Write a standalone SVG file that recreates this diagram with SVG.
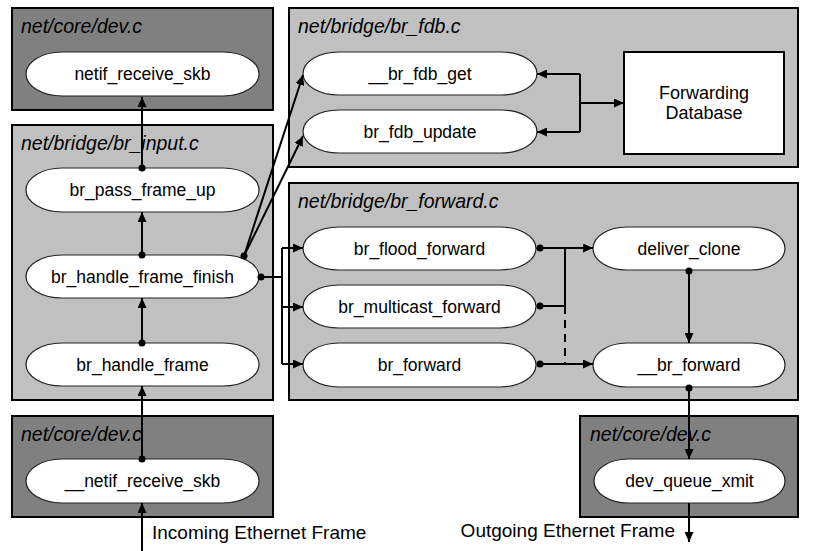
<svg xmlns="http://www.w3.org/2000/svg" width="817" height="551" viewBox="0 0 817 551">
<style>
.dark{fill:#808080;stroke:#000;stroke-width:2}
.light{fill:#c0c0c0;stroke:#000;stroke-width:2}
.pill{fill:#fff;stroke:#222;stroke-width:1.2}
.mod{font-family:"Liberation Sans",Arial,Helvetica,sans-serif;font-style:italic;font-size:19.5px;fill:#000}
.lbl{font-family:"Liberation Sans",Arial,Helvetica,sans-serif;font-size:17.5px;fill:#000;text-anchor:middle}
.fd{font-size:18px}
.ext{font-family:"Liberation Sans",Arial,Helvetica,sans-serif;font-size:19px;fill:#000}
.c{fill:none;stroke:#000;stroke-width:2}
.a{marker-end:url(#arr)}
.d{marker-start:url(#dot)}
.dash{stroke-dasharray:8,6}
</style>
<defs>
<marker id="arr" markerUnits="userSpaceOnUse" markerWidth="11" markerHeight="9" refX="10" refY="4.5" orient="auto" viewBox="0 0 11 9">
<path d="M0,0 L10,4.5 L0,9 z" fill="#000"/>
</marker>
<marker id="dot" markerUnits="userSpaceOnUse" markerWidth="8" markerHeight="8" refX="4" refY="4" viewBox="0 0 8 8">
<circle cx="4" cy="4" r="3.5" fill="#000"/>
</marker>
</defs>

<g id="mod-dev-top">
<rect class="dark" x="12" y="8" width="261" height="102"/>
<text class="mod" x="21" y="33">net/core/dev.c</text>
</g>
<g id="mod-br-input">
<rect class="light" x="12" y="125" width="261" height="275"/>
<text class="mod" x="21" y="150">net/bridge/br_input.c</text>
</g>
<g id="mod-br-fdb">
<rect class="light" x="289" y="8" width="509" height="159"/>
<text class="mod" x="298" y="33">net/bridge/br_fdb.c</text>
</g>
<g id="mod-br-forward">
<rect class="light" x="289" y="183" width="509" height="217"/>
<text class="mod" x="298" y="208">net/bridge/br_forward.c</text>
</g>
<g id="mod-dev-in">
<rect class="dark" x="12" y="416" width="261" height="101"/>
<text class="mod" x="21" y="441">net/core/dev.c</text>
</g>
<g id="mod-dev-out">
<rect class="dark" x="580" y="416" width="218" height="101"/>
<text class="mod" x="590" y="441">net/core/dev.c</text>
</g>

<g id="netif_receive_skb">
<rect class="pill" x="26" y="52" width="233" height="44" rx="36" ry="22"/>
<text class="lbl" x="142.5" y="80">netif_receive_skb</text>
</g>
<g id="br_pass_frame_up">
<rect class="pill" x="26" y="168" width="233" height="44" rx="36" ry="22"/>
<text class="lbl" x="142.5" y="196">br_pass_frame_up</text>
</g>
<g id="br_handle_frame_finish">
<rect class="pill" x="26" y="255" width="233" height="43" rx="36" ry="21.5"/>
<text class="lbl" x="142.5" y="282.5">br_handle_frame_finish</text>
</g>
<g id="br_handle_frame">
<rect class="pill" x="26" y="343" width="233" height="43" rx="36" ry="21.5"/>
<text class="lbl" x="142.5" y="370.5">br_handle_frame</text>
</g>
<g id="__netif_receive_skb">
<rect class="pill" x="26" y="459" width="233" height="44" rx="36" ry="22"/>
<text class="lbl" x="142.5" y="487">__netif_receive_skb</text>
</g>
<g id="__br_fdb_get">
<rect class="pill" x="303" y="52" width="234" height="43" rx="36" ry="21.5"/>
<text class="lbl" x="420" y="79.5">__br_fdb_get</text>
</g>
<g id="br_fdb_update">
<rect class="pill" x="303" y="110" width="234" height="43" rx="36" ry="21.5"/>
<text class="lbl" x="420" y="137.5">br_fdb_update</text>
</g>
<g id="forwarding_database">
<rect x="624" y="52" width="160" height="102" fill="#fff" stroke="#000" stroke-width="2"/>
<text class="lbl fd" x="704" y="99">Forwarding</text>
<text class="lbl fd" x="704" y="119">Database</text>
</g>
<g id="br_flood_forward">
<rect class="pill" x="303" y="227" width="233" height="43" rx="36" ry="21.5"/>
<text class="lbl" x="419.5" y="254.5">br_flood_forward</text>
</g>
<g id="br_multicast_forward">
<rect class="pill" x="303" y="285" width="233" height="43" rx="36" ry="21.5"/>
<text class="lbl" x="419.5" y="312.5">br_multicast_forward</text>
</g>
<g id="br_forward">
<rect class="pill" x="303" y="343" width="233" height="44" rx="36" ry="22"/>
<text class="lbl" x="419.5" y="371">br_forward</text>
</g>
<g id="deliver_clone">
<rect class="pill" x="593" y="227" width="192" height="43" rx="34" ry="21.5"/>
<text class="lbl" x="689" y="254.5">deliver_clone</text>
</g>
<g id="__br_forward">
<rect class="pill" x="593" y="343" width="192" height="44" rx="34" ry="22"/>
<text class="lbl" x="689" y="371">__br_forward</text>
</g>
<g id="dev_queue_xmit">
<rect class="pill" x="594" y="459" width="191" height="44" rx="34" ry="22"/>
<text class="lbl" x="689.5" y="487">dev_queue_xmit</text>
</g>

<g id="connectors">
<path class="c a d" d="M142,168 V97"/>
<path class="c a d" d="M142,255 V212"/>
<path class="c a d" d="M142,343 V298"/>
<path class="c a d" d="M142,459 V386"/>
<path class="c a" d="M142,551 V503"/>
<path class="c a d" d="M244,256 L303,75"/>
<path class="c a" d="M244,256 L303,136"/>
<path class="c" d="M580,74 V132"/>
<path class="c a" d="M580,103 H624"/>
<path class="c a" d="M580,74 H537"/>
<path class="c a" d="M580,132 H537"/>
<path class="c d" d="M261,277 H282"/>
<path class="c" d="M282,248 V364"/>
<path class="c a" d="M282,248 H303"/>
<path class="c a" d="M282,307 H303"/>
<path class="c a" d="M282,364 H303"/>
<path class="c a d" d="M540,248 H593"/>
<path class="c d" d="M540,306 H565 V248"/>
<path class="c a d" d="M540,364 H593"/>
<path class="c dash" d="M565,306 V364"/>
<path class="c a d" d="M689,271 V343"/>
<path class="c a d" d="M689,388 V459"/>
<path class="c a" d="M689,503 V542"/>
</g>
<text class="ext" x="152" y="539">Incoming Ethernet Frame</text>
<text class="ext" x="675" y="537" text-anchor="end">Outgoing Ethernet Frame</text>
</svg>
